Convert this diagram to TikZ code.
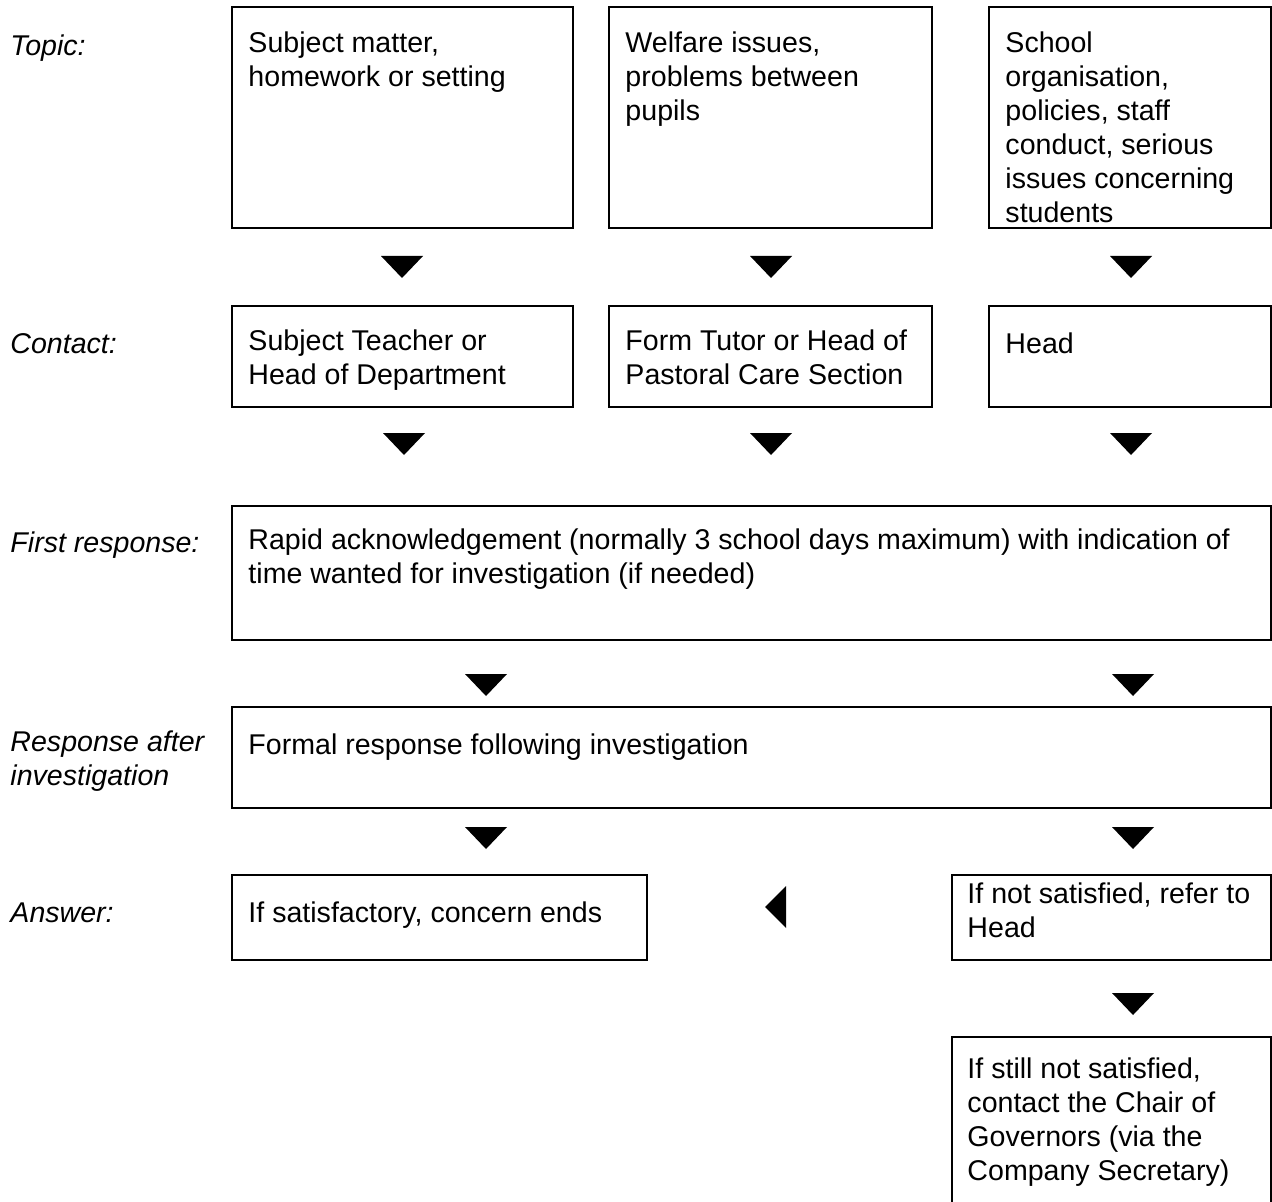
\documentclass[tikz,border=0pt]{standalone}
\usepackage{fontspec}
\setmainfont{Liberation Sans}
\usetikzlibrary{fit}
\newcommand{\dtri}[2]{\fill (#1-21,#2) -- (#1+21,#2) -- (#1,#2+22) -- cycle;}
\begin{document}
\begin{tikzpicture}[x=0.42pt,y=-0.42pt,
  box/.style={draw, line width=0.84pt, inner sep=0pt},
  txt/.style={font=\fontsize{12}{14.28}\selectfont, align=left, inner sep=0pt, anchor=north west, execute at begin node=\strut},
  lbl/.style={txt, font=\fontsize{12}{14.28}\selectfont\itshape}]
\path[use as bounding box] (0,0) rectangle (1272,1202);
\clip (0,0) rectangle (1272,1202);

% row labels (y = baseline - strut height)
\node[lbl] (lTopic) at (10,55-23.8) {Topic:};
\node[lbl] (lContact) at (10,353-23.8) {Contact:};
\node[lbl] (lFirst) at (10,552-23.8) {First response:};
\node[lbl] (lResp) at (10,754-23.8) {Response after\\investigation};
\node[lbl] (lAnswer) at (10,922-23.8) {Answer:};

% topic boxes
\node[box, fit={(232,7) (573,228)}] (t1) {};
\node[box, fit={(609,7) (932,228)}] (t2) {};
\node[box, fit={(989,7) (1271,228)}] (t3) {};
\node[txt] (t1t) at (248,55-23.8) {Subject matter,\\homework or setting};
\node[txt] (t2t) at (625,55-23.8) {Welfare issues,\\problems between\\pupils};
\node[txt] (t3t) at (1005,55-23.8) {School\\organisation,\\policies, staff\\conduct, serious\\issues concerning\\students};

% contact boxes
\node[box, fit={(232,306) (573,407)}] (c1) {};
\node[box, fit={(609,306) (932,407)}] (c2) {};
\node[box, fit={(989,306) (1271,407)}] (c3) {};
\node[txt] (c1t) at (248,353-23.8) {Subject Teacher or\\Head of Department};
\node[txt] (c2t) at (625,353-23.8) {Form Tutor or Head of\\Pastoral Care Section};
\node[txt] (c3t) at (1005,353-23.8) {Head};

% first response
\node[box, fit={(232,506) (1271,640)}] (fr) {};
\node[txt] (frt) at (248,552-23.8) {Rapid acknowledgement (normally 3 school days maximum) with indication of\\time wanted for investigation (if needed)};

% response after investigation
\node[box, fit={(232,707) (1271,808)}] (ra) {};
\node[txt] (rat) at (248,754-23.8) {Formal response following investigation};

% answers
\node[box, fit={(232,875) (647,960)}] (a1) {};
\node[txt] (a1t) at (248,922-23.8) {If satisfactory, concern ends};
\node[box, fit={(952,875) (1271,960)}] (a2) {};
\node[txt] (a2t) at (967,906-23.8) {If not satisfied, refer to\\Head};

% final
\node[box, fit={(952,1037) (1271,1215)}] (fin) {};
\node[txt] (fint) at (967,1081-23.8) {If still not satisfied,\\contact the Chair of\\Governors (via the\\Company Secretary)};

% triangles
\dtri{402}{256}
\dtri{771}{256}
\dtri{1131}{256}
\dtri{404}{433}
\dtri{771}{433}
\dtri{1131}{433}
\dtri{486}{674}
\dtri{1133}{674}
\dtri{486}{827}
\dtri{1133}{827}
\dtri{1133}{993}
\fill (765,907) -- (786,886) -- (786,928) -- cycle;
\end{tikzpicture}
\end{document}
